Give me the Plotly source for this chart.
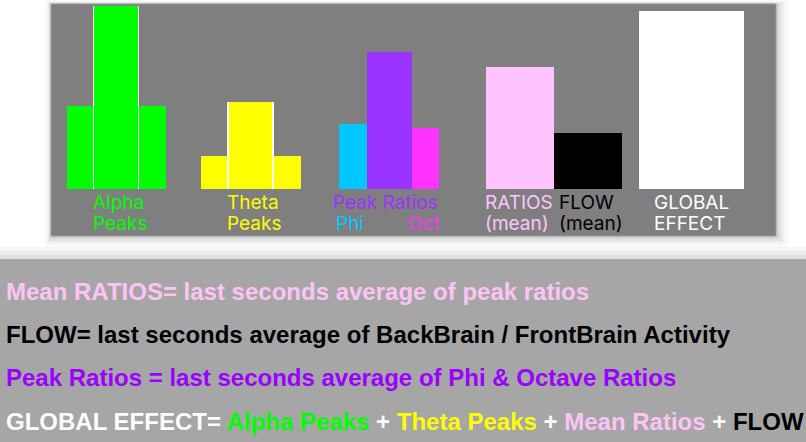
import plotly.graph_objects as go

W, H = 806, 442

# bar heights (arbitrary units, 0 = baseline)
alpha_peaks = [83, 183, 83]          # left side, centre, right side
theta_peaks = [33, 87, 33]           # left side, centre, right side
peak_ratio_names = ['Phi', 'Peak Ratios', 'Oct']
peak_ratio_values = [65, 137, 61]
mean_names = ['RATIOS (mean)', 'FLOW (mean)']
mean_values = [122, 56]
global_effect = [178]

# text under the bars: (lines, colour) per label
bar_labels = [
    (['Alpha', 'Peaks'], '#00ff00'),
    (['Theta', 'Peaks'], '#ffff00'),
    (['Peak Ratios'], '#9933ff'),
    (['Phi'], '#00c8ff'),
    (['Oct'], '#ff33ff'),
    (['RATIOS', '(mean)'], '#ffc4ff'),
    (['FLOW', '(mean)'], '#000000'),
    (['GLOBAL', 'EFFECT'], '#ffffff'),
]

# legend text lines in the lower box
note_lines = [
    [('Mean RATIOS= last seconds average of peak ratios', '#ffc4f6')],
    [('FLOW= last seconds average of BackBrain / FrontBrain Activity', '#000000')],
    [('Peak Ratios = last seconds average of Phi & Octave Ratios', '#9900ff')],
    [('GLOBAL EFFECT= ', '#ffffff'), ('Alpha Peaks', '#00ff00'), (' + ', '#ffffff'),
     ('Theta Peaks', '#ffff00'), (' + ', '#ffffff'), ('Mean Ratios', '#ffc4f6'),
     (' + ', '#ffffff'), ('FLOW', '#000000')],
]

# --- layout helpers (pixel positions on the 806x442 canvas) ---
BASE = 189  # pixel row of the bar baseline


def px(x):
    return x / W


def py(y):
    return 1 - y / H


fig = go.Figure()


def add_bars(x, w, values, color):
    fig.add_trace(go.Bar(
        x=x, y=values, width=w, base=0,
        marker=dict(color=color, line=dict(width=0)),
        hoverinfo='skip', showlegend=False,
    ))


def add_centre_bar(x, w, value, color):
    # white strip on both sides: white bar, then a slightly narrower coloured one
    add_bars([x], [w], [value], '#ffffff')
    add_bars([x], [w - 3], [value], color)


add_bars([80, 152.7], [26.7, 26.7], [alpha_peaks[0], alpha_peaks[2]], '#00ff00')
add_centre_bar(116, 46.5, alpha_peaks[1], '#00ff00')
add_bars([214.5, 287.7], [27.3, 27.3], [theta_peaks[0], theta_peaks[2]], '#ffff00')
add_centre_bar(250.5, 46.5, theta_peaks[1], '#ffff00')

pr_colors = ['#00c8ff', '#9933ff', '#ff33ff']
add_bars([353, 389.3, 425.7], [27.3, 45.3, 27.3], peak_ratio_values, pr_colors)
add_bars([519.7, 587.7], [68, 68], mean_values, ['#ffc4ff', '#000000'])
add_bars([691.8], [105], global_effect, '#ffffff')

# label placement: left x of each label, first line centre row
label_pos = [(92, 203), (226, 203), (332, 203), (335, 223.5), (407, 223.5),
             (484, 203), (558, 203), (653, 203)]
for (lines, color), (lx, ly) in zip(bar_labels, label_pos):
    for i, t in enumerate(lines):
        fig.add_annotation(
            x=px(lx), y=py(ly + i * 20.5), xref='paper', yref='paper',
            text=t, showarrow=False, xanchor='left', yanchor='middle',
            borderpad=0, font=dict(family='Inter, Arial, sans-serif', size=19, color=color),
        )

note_rows = [291.3, 334.6, 377.9, 421.2]
for parts, row in zip(note_lines, note_rows):
    txt = ''.join(f'<span style="color:{c}">{t}</span>' for t, c in parts)
    fig.add_annotation(
        x=px(5), y=py(row), xref='paper', yref='paper',
        text=txt, showarrow=False, xanchor='left', yanchor='middle', borderpad=0,
        font=dict(family='Liberation Sans, Arial, sans-serif', size=24, weight='bold'),
    )

shapes = []
# soft shadow round the top panel
for pad, alpha in [(9, 0.025), (6, 0.04), (4, 0.05), (2, 0.07)]:
    shapes.append(dict(type='rect', xref='paper', yref='paper', layer='below',
                       x0=px(51 - pad * 0.6), x1=px(776 + pad * 1.4),
                       y0=py(236 + pad * 1.3), y1=py(4 - pad * 0.4),
                       fillcolor=f'rgba(0,0,0,{alpha})', line_width=0))
# top (dark grey) panel
shapes.append(dict(type='rect', xref='paper', yref='paper', layer='below',
                   x0=px(51), x1=px(776), y0=py(236), y1=py(4),
                   fillcolor='#7f7f7f', line=dict(color='#9a9a9a', width=1)))
# shadow band above the lower box
for top, alpha in [(247, 0.03), (251, 0.04), (255, 0.05)]:
    shapes.append(dict(type='rect', xref='paper', yref='paper', layer='below',
                       x0=0, x1=1, y0=py(259), y1=py(top),
                       fillcolor=f'rgba(0,0,0,{alpha})', line_width=0))
# lower (light grey) text box
shapes.append(dict(type='rect', xref='paper', yref='paper', layer='below',
                   x0=0, x1=1, y0=0, y1=py(259),
                   fillcolor='#a6a6a6', line_width=0))

fig.update_layout(
    width=W, height=H,
    margin=dict(l=0, r=0, t=0, b=0),
    paper_bgcolor='white', plot_bgcolor='rgba(0,0,0,0)',
    barmode='overlay', bargap=0,
    xaxis=dict(range=[0, W], visible=False, fixedrange=True),
    yaxis=dict(range=[BASE - H, BASE], visible=False, fixedrange=True),
    shapes=shapes,
    showlegend=False,
)

fig.write_html("out.html", config={'displayModeBar': False},
               post_script="document.body.style.margin='0';")
